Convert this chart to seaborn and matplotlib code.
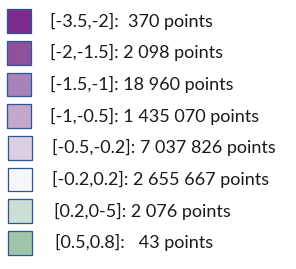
import pandas as pd
import matplotlib.pyplot as plt
import seaborn as sns

sns.set_style('white')
plt.rcParams['font.family'] = ['Lato', 'DejaVu Sans']

# legend data
ranges = ['[-3.5,-2]', '[-2,-1.5]', '[-1.5,-1]', '[-1,-0.5]',
          '[-0.5,-0.2]', '[-0.2,0.2]', '[0.2,0-5]', '[0.5,0.8]']
counts = [370, 2098, 18960, 1435070, 7037826, 2655667, 2076, 43]
colors = ['#7B2C8C', '#8F5199', '#A982B8', '#C4A7CD',
          '#DDCFE2', '#F6F6F9', '#CDDFD4', '#A1C5AA']
gaps = ['  ', ' ', ' ', ' ', ' ', ' ', ' ', '   ']

df = pd.DataFrame({'range': ranges, 'count': counts, 'row': range(len(ranges))})
df['label'] = [r + ':' + g + f'{c:,}'.replace(',', ' ') + ' points'
               for r, c, g in zip(ranges, counts, gaps)]
df['y'] = 21 + df['row'] * 31.7
df['x'] = [19, 19, 19, 19, 20, 20, 20, 20]
df['tx'] = [50, 50, 50, 50, 52, 52, 54, 55]

fig = plt.figure(figsize=(2.96, 2.69), dpi=100)
ax = fig.add_axes([0, 0, 1, 1])
sns.scatterplot(data=df, x='x', y='y', hue='range', palette=colors, marker='s',
                s=290, edgecolor='#2F5597', linewidth=0.9, legend=False, ax=ax)
for _, r in df.iterrows():
    ax.text(r['tx'], r['y'], r['label'], va='center', ha='left',
            fontsize=13, color='#1a1a1a')
ax.set_xlim(0, 296)
ax.set_ylim(269, 0)
ax.axis('off')
fig.savefig('out.png', dpi=100)
